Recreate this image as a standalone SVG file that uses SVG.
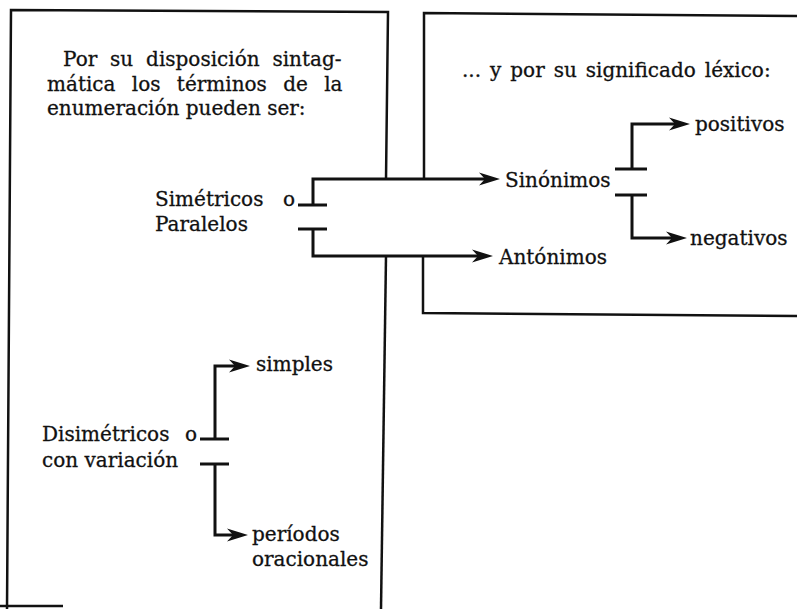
<svg xmlns="http://www.w3.org/2000/svg" width="797" height="609" viewBox="0 0 797 609">
<style>
text { font-family: "DejaVu Serif", "Liberation Serif", serif; font-size: 20px; fill: #111; stroke: #111; stroke-width: 0.3; }
.frame { fill: none; stroke: #111; stroke-width: 2.5; }
.conn { fill: none; stroke: #111; stroke-width: 3; }
.arrow { fill: none; stroke: #111; stroke-width: 3; marker-end: url(#arr); }
</style>
<defs>
<marker id="arr" markerUnits="userSpaceOnUse" viewBox="-16 -8 24 16" refX="0" refY="0" markerWidth="24" markerHeight="16" orient="auto">
<path d="M7,0 L-14,-6.5 L-8,0 L-14,6.5 Z" fill="#111"/>
</marker>
</defs>
<rect width="797" height="609" fill="#fff"/>
<g id="frames">
<path class="frame" d="M7,609 L11,10 L388,12 L386,179"/>
<path class="frame" d="M386,256 L381,609"/>
<path class="frame" d="M424,179 L424,13 L797,16"/>
<path class="frame" d="M423,256 L423,313 L797,316"/>
<path class="frame" d="M0,606 L63,606" stroke-width="1.5"/>
</g>
<g id="connectors">
<path class="conn" d="M298,205 H327"/>
<path class="arrow" d="M313,205 V179 H493"/>
<path class="conn" d="M298,229 H327"/>
<path class="arrow" d="M313,229 V256 H486"/>
<path class="conn" d="M615,169 H647"/>
<path class="arrow" d="M632,169 V124 H683"/>
<path class="conn" d="M615,195 H647"/>
<path class="arrow" d="M632,195 V238 H680"/>
<path class="conn" d="M200,439 H229"/>
<path class="arrow" d="M215,439 V366 H243"/>
<path class="conn" d="M200,464 H229"/>
<path class="arrow" d="M215,464 V535 H241"/>
</g>
<g id="intro">
<text x="63" y="66" word-spacing="6.5">Por su disposición sintag-</text>
<text x="47" y="91" word-spacing="10">mática los términos de la</text>
<text x="47" y="115" word-spacing="0">enumeración pueden ser:</text>
</g>
<g id="lexico">
<text x="462" y="77" word-spacing="2.6">... y por su significado léxico:</text>
</g>
<g id="simetricos">
<text x="155" y="206">Simétricos<tspan x="283">o</tspan></text>
<text x="155" y="231">Paralelos</text>
</g>
<g id="sinonimos"><text x="505" y="187">Sinónimos</text></g>
<g id="antonimos"><text x="499" y="264">Antónimos</text></g>
<g id="positivos"><text x="695" y="131">positivos</text></g>
<g id="negativos"><text x="690" y="245">negativos</text></g>
<g id="disimetricos">
<text x="42" y="441">Disimétricos<tspan x="185">o</tspan></text>
<text x="42" y="467">con variación</text>
</g>
<g id="simples"><text x="256" y="371">simples</text></g>
<g id="periodos">
<text x="252" y="541">períodos</text>
<text x="252" y="566">oracionales</text>
</g>
</svg>
